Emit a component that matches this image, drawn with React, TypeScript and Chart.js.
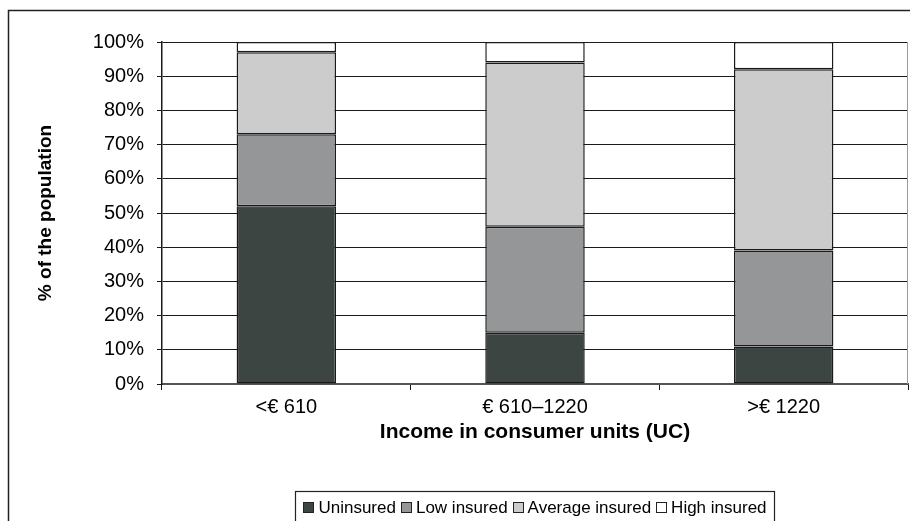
import React, { useEffect, useRef } from "react";
import { Chart, registerables } from "chart.js";

Chart.register(...registerables);

const categories = ["<€ 610", "€ 610–1220", ">€ 1220"];
const seriesNames = ["Uninsured", "Low insured", "Average insured", "High insured"];
const uninsured = [52, 15, 11];
const lowInsured = [21, 31, 28];
const averageInsured = [24, 48, 53];
const highInsured = [3, 6, 8];
const yTickValues = [0, 10, 20, 30, 40, 50, 60, 70, 80, 90, 100];
const yTitle = "% of the population";
const xTitle = "Income in consumer units (UC)";

const FONT = "'Liberation Sans', Arial, Helvetica, sans-serif";
const fills = ["#3d4543", "#959698", "#cccccc", "#ffffff"];

const decor = {
  id: "decor",
  beforeDraw(chart: any) {
    const ctx = chart.ctx;
    ctx.save();
    ctx.fillStyle = "#ffffff";
    ctx.fillRect(0, 0, chart.width, chart.height);
    ctx.strokeStyle = "#222222";
    ctx.lineWidth = 1.5;
    ctx.beginPath();
    ctx.moveTo(8.5, chart.height + 5);
    ctx.lineTo(8.5, 10.5);
    ctx.lineTo(chart.width + 5, 10.5);
    ctx.stroke();
    ctx.restore();
  },
  afterDraw(chart: any) {
    const { ctx, chartArea: a } = chart;
    ctx.save();
    // right plot border
    ctx.strokeStyle = "#9a9a9a";
    ctx.lineWidth = 1;
    ctx.beginPath();
    ctx.moveTo(a.right - 0.5, a.top);
    ctx.lineTo(a.right - 0.5, a.bottom);
    ctx.stroke();

    // legend
    ctx.font = "17px " + FONT;
    const ds = chart.data.datasets;
    const box = 11;
    const gapText = 4;
    const gapItem = 5;
    const padX = 8;
    const widths = ds.map((d: any) => ctx.measureText(d.label).width);
    const total =
      widths.reduce((s: number, w: number) => s + box + gapText + w, 0) +
      gapItem * (ds.length - 1);
    const cx = (a.left + a.right) / 2;
    let x = cx - total / 2;
    const cy = 507;
    ctx.strokeStyle = "#222222";
    ctx.lineWidth = 1.2;
    ctx.strokeRect(Math.round(x - padX) + 0.5, 491.5, Math.round(total + 2 * padX), 60);
    ctx.textBaseline = "middle";
    ctx.textAlign = "left";
    ds.forEach((d: any, i: number) => {
      ctx.fillStyle = d.backgroundColor;
      ctx.fillRect(Math.round(x), Math.round(cy - box / 2), box, box);
      ctx.strokeStyle = "#222222";
      ctx.lineWidth = 1;
      ctx.strokeRect(Math.round(x) + 0.5, Math.round(cy - box / 2) + 0.5, box - 1, box - 1);
      ctx.fillStyle = "#000000";
      ctx.fillText(d.label, x + box + gapText, cy + 1);
      x += box + gapText + widths[i] + gapItem;
    });
    ctx.restore();
  },
};

export default function App() {
  const ref = useRef<HTMLCanvasElement | null>(null);

  useEffect(() => {
    if (!ref.current) return;
    const values = [uninsured, lowInsured, averageInsured, highInsured];
    const chart = new Chart(ref.current, {
      type: "bar",
      data: {
        labels: categories,
        datasets: seriesNames.map((name, i) => ({
          label: name,
          data: values[i],
          backgroundColor: fills[i],
          borderColor: "#1a1a1a",
          borderWidth: 1.5,
          borderSkipped: false,
          barPercentage: 0.4,
          categoryPercentage: 1,
        })),
      },
      options: {
        animation: false,
        responsive: true,
        maintainAspectRatio: false,
        layout: { padding: { left: 0, top: 42, right: 2, bottom: 0 } },
        plugins: {
          legend: { display: false },
          tooltip: { enabled: false },
          title: { display: false },
        },
        scales: {
          x: {
            stacked: true,
            offset: true,
            afterFit: (s: any) => {
              s.height = 137;
            },
            grid: {
              display: true,
              offset: true,
              drawOnChartArea: false,
              drawTicks: true,
              tickLength: 6,
              color: "#1a1a1a",
              lineWidth: 1,
            },
            border: { display: true, color: "#555555", width: 2 },
            ticks: {
              color: "#000000",
              font: { family: FONT, size: 20 },
              padding: 5,
              maxRotation: 0,
            },
            title: {
              display: true,
              text: xTitle,
              color: "#000000",
              font: { family: FONT, size: 21, weight: "bold" },
              padding: { top: 0, bottom: 76 },
            },
          },
          y: {
            stacked: true,
            min: 0,
            max: 100,
            afterFit: (s: any) => {
              s.width = 162;
            },
            afterBuildTicks: (s: any) => {
              s.ticks = yTickValues.map((v) => ({ value: v }));
            },
            grid: {
              display: true,
              color: "#1a1a1a",
              lineWidth: 1,
              drawTicks: true,
              tickLength: 5,
            },
            border: { display: true, color: "#1a1a1a", width: 1.5 },
            ticks: {
              color: "#000000",
              font: { family: FONT, size: 20 },
              padding: 13,
              callback: (v: any) => v + "%",
            },
            title: {
              display: true,
              text: yTitle,
              color: "#000000",
              font: { family: FONT, size: 19, weight: "bold" },
              padding: { top: 34, bottom: 0 },
            },
          },
        },
      },
      plugins: [decor],
    });
    return () => chart.destroy();
  }, []);

  return (
    <div style={{ position: "fixed", left: 0, top: 0, width: 910, height: 521, background: "#fff" }}>
      <canvas ref={ref} />
    </div>
  );
}
